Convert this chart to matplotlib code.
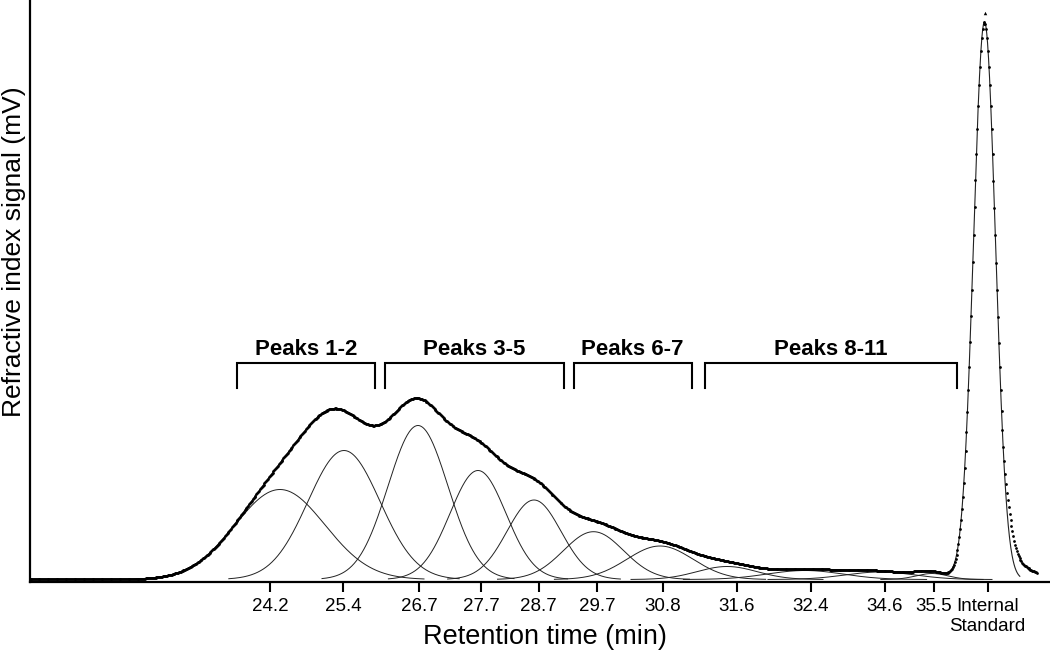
import numpy as np
import matplotlib
matplotlib.use("Agg")
import matplotlib.pyplot as plt
from math import erf

# ---------------- data ----------------
# fitted component peaks: position on plot axis, height, width
peak_labels = ["24.2", "25.4", "26.7", "27.7", "28.7", "29.7", "30.8",
               "31.6", "32.4", "34.6", "35.5"]
peak_centers = [280, 344, 418, 478, 534, 593.5, 660, 727, 805, 880, 932]
peak_heights = [90, 129, 154, 109, 79.5, 47.8, 33.5, 13, 9, 7.5, 6]
peak_sigmas = [45, 36, 30, 28, 27, 30, 33, 30, 38, 35, 16]

# internal standard peak
is_center = 984.5
is_height = 557.5
is_sigma = 11

# tailing of the measured internal-standard signal
tail_onset = 1007
tail_rise = 3
tail_decay = 18
tail_height = 36

tick_positions = [270, 343, 419, 481, 538.5, 597, 662.5, 737, 811, 885, 934, 987.5]
tick_labels = peak_labels + ["Internal\nStandard"]

bracket_labels = ["Peaks 1-2", "Peaks 3-5", "Peaks 6-7", "Peaks 8-11"]
bracket_starts = [236.7, 385, 573.5, 705]
bracket_ends = [375, 564, 691.7, 957.3]

# ---------------- helpers ----------------
def gauss(x, c, h, s):
    return h * np.exp(-0.5 * ((x - c) / s) ** 2)

def fit_sum(x):
    y = gauss(x, is_center, is_height, is_sigma)
    for c, h, s in zip(peak_centers, peak_heights, peak_sigmas):
        y = y + gauss(x, c, h, s)
    return y

def tail(x):
    z = (x - tail_onset) / tail_rise
    step = 0.5 * (1 + np.array([erf(v / np.sqrt(2)) for v in z]))
    return tail_height * step * np.exp(-(x - tail_onset) / tail_decay)

# ---------------- figure ----------------
plt.rcParams['font.family'] = ['Liberation Sans', 'DejaVu Sans']
fig = plt.figure(figsize=(10.5, 6.51), dpi=100)
ax = fig.add_axes([30.3 / 1050, 1 - 581.7 / 651, 1 - 30.3 / 1050, 581.7 / 651])

x_min, x_max = 30.3, 1050
ax.set_xlim(x_min, x_max)
ax.set_ylim(-2.2, 579.5)

line_col = '#222222'
# individual components
for c, h, s in zip(peak_centers, peak_heights, peak_sigmas):
    xs = np.linspace(c - 3.2 * s, c + 3.2 * s, 400)
    ax.plot(xs, gauss(xs, c, h, s), color=line_col, lw=0.7, zorder=2)

# sum of fit (thin)
xf = np.arange(x_min, 1020, 0.25)
ax.plot(xf, fit_sum(xf), color=line_col, lw=0.8, zorder=3)

# measured signal as dense dots
xd = np.arange(x_min + 0.2, 1037.5, 0.9)
yd = fit_sum(xd) + tail(xd)
ax.plot(xd, yd, linestyle='none', marker='o', ms=2.0, mec='none', mfc='black', zorder=4)
# apex marker
ax.plot([is_center], [is_height * 1.016], linestyle='none', marker='^', ms=2.5,
        mec='none', mfc='black', zorder=4)

# brackets
b_top, b_bot, t_y = 216.2, 191.2, 224.5
for lab, x0, x1 in zip(bracket_labels, bracket_starts, bracket_ends):
    ax.plot([x0, x0, x1, x1], [b_bot, b_top, b_top, b_bot], color='black', lw=1.5,
            solid_joinstyle='miter', zorder=5)
    ax.text((x0 + x1) / 2, t_y, lab, ha='center', va='baseline', fontsize=16,
            fontweight='bold')

# axes styling
for side in ['top', 'right']:
    ax.spines[side].set_visible(False)
for side in ['left', 'bottom']:
    ax.spines[side].set_linewidth(1.6)
ax.set_yticks([])
ax.set_xticks(tick_positions)
ax.set_xticklabels(tick_labels, fontsize=13.5)
ax.tick_params(axis='x', direction='out', length=7, width=1.5, pad=5)
ax.set_xlabel("Retention time (min)", fontsize=19.5)
ax.xaxis.set_label_coords(0.505, -0.072)
ax.set_ylabel("Refractive index signal (mV)", fontsize=19, va='center')
ax.yaxis.set_label_coords(-0.0155, 0.567)

fig.savefig("out.png", dpi=100)
